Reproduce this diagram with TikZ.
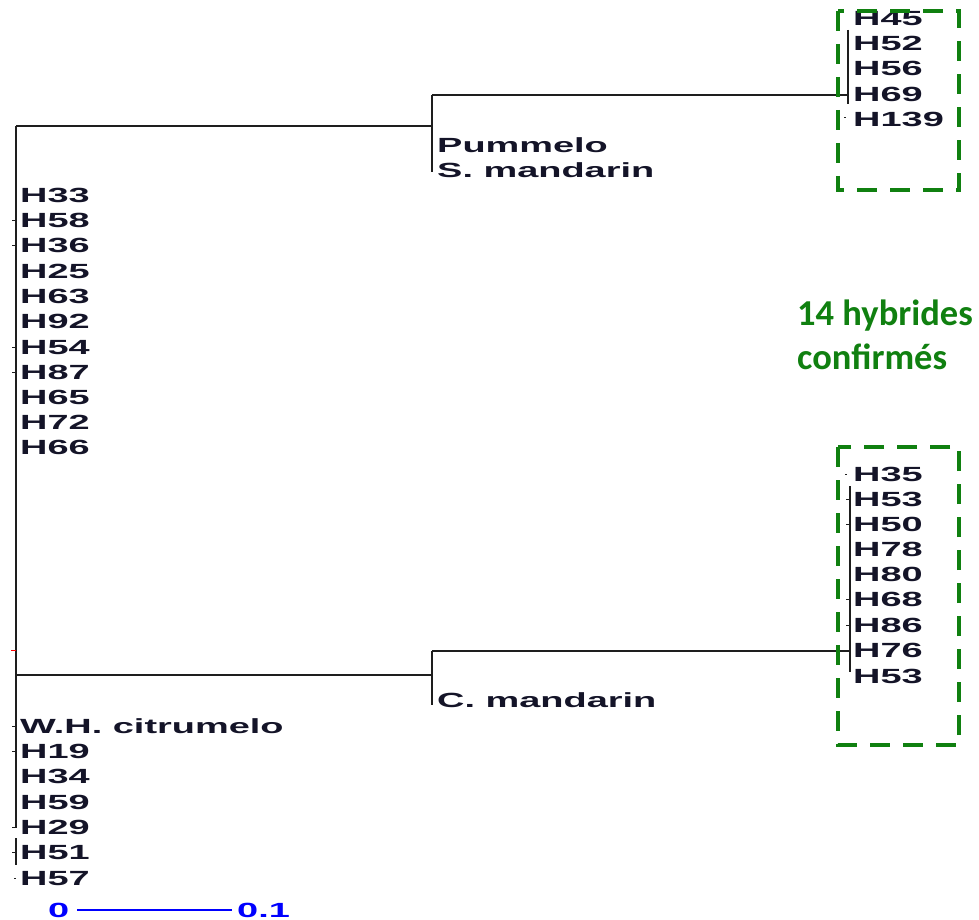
\documentclass[tikz,border=0pt]{standalone}
\usepackage{fontspec}
\setmainfont{Liberation Sans}
\newfontfamily\calib{Carlito}
\definecolor{hgreen}{RGB}{16,128,16}
\definecolor{tree}{RGB}{30,30,30}
\definecolor{lblc}{RGB}{20,20,40}
\newcommand\lbtxt[1]{\scalebox{1.85}[1]{\fontsize{20.5}{21}\selectfont\bfseries #1}}
\tikzset{
  lbl/.style={anchor=base west, inner sep=0pt, text=lblc, font=\fontsize{20.5}{21}\selectfont},
  branch/.style={draw=tree, line width=1.8pt},
  tick/.style={draw=tree, line width=1pt},
  gbox/.style={draw=hgreen, line width=4pt, dash pattern=on 20pt off 13pt},
  gtxt/.style={anchor=base west, inner sep=0pt, text=hgreen, font=\calib\bfseries\fontsize{36.5}{40}\selectfont}
}
\begin{document}
\begin{tikzpicture}[x=1pt,y=-1pt]
\useasboundingbox (0,0) rectangle (979,920);
% left labels
\foreach \t/\y [count=\i] in {H33/195,H58/220,H36/245,H25/271,H63/296,H92/321,H54/347,H87/372,H65/397,H72/422,H66/447,W.H. citrumelo/726,H19/751,H34/776,H59/802,H29/827,H51/852,H57/878}
  \node[lbl] (L\i) at (20,\y+7.5) {\lbtxt{\t}};
% middle labels
\node[lbl] (pum) at (437,152.5) {\lbtxt{Pummelo}};
\node[lbl] (smd) at (437,177.5) {\lbtxt{S. mandarin}};
\node[lbl] (cmd) at (437,707.5) {\lbtxt{C. mandarin}};
% right top labels
\foreach \t/\y [count=\i] in {H45/18,H52/43,H56/68,H69/94,H139/119}
  \node[lbl] (T\i) at (853,\y+7.5) {\lbtxt{\t}};
% right bottom labels
\foreach \t/\y [count=\i] in {H35/474,H53/499,H50/524,H78/549,H80/574,H68/599,H86/625,H76/650,H53/676}
  \node[lbl] (B\i) at (853,\y+7.5) {\lbtxt{\t}};
% tree coordinates
\coordinate (rtop) at (16,126);
\coordinate (rbot) at (16,828);
\coordinate (ua) at (432,95);
\coordinate (ub) at (432,172);
\coordinate (uj) at (432,126);
\coordinate (da) at (432,651);
\coordinate (db) at (432,705);
\coordinate (dj) at (432,675);
\coordinate (lj) at (16,675);
\coordinate (ta) at (848,30);
\coordinate (tb) at (848,104);
\coordinate (tj) at (848,95);
\coordinate (ba) at (850,486);
\coordinate (bb) at (850,672);
\coordinate (bj) at (850,651);
% branches
\draw[branch] (rtop) -- (rbot);
\draw[branch] (rtop) -- (uj);
\draw[branch] (ua) -- (ub);
\draw[branch] (ua) -- (tj);
\draw[branch] (ta) -- (tb);
\draw[branch] (lj) -- (dj);
\draw[branch] (da) -- (db);
\draw[branch] (da) -- (bj);
\draw[branch] (ba) -- (bb);
\draw[branch] (16,838) -- (16,865);
% small ticks
\foreach \y in {220,245,347,372,726,751,827,852}
  \draw[tick] (12,\y) -- (16,\y);
\draw[tick] (14,878) -- (16,878);
\draw[red, line width=1pt] (11,650) -- (16,650);
\draw[tick] (844,118) -- (846,118);
\draw[tick] (845,474) -- (847,474);
\foreach \y in {499,524,599,625}
  \draw[tick] (846,\y) -- (850,\y);
% green boxes
\draw[gbox] (838,11) rectangle (959,190);
\draw[gbox] (838,447) rectangle (959,745);
\node[gtxt] (g1) at (797,325) {14 hybrides};
\node[gtxt] (g2) at (797,369) {confirmés};
% scale bar
\node[lbl, text=blue] (s0) at (48,917.5) {\lbtxt{0}};
\node[lbl, text=blue] (s1) at (237,917.5) {\lbtxt{0.1}};
\draw[blue, line width=1.2pt] (77,910) coordinate (sb0) -- (232,910) coordinate (sb1);
\end{tikzpicture}
\end{document}
